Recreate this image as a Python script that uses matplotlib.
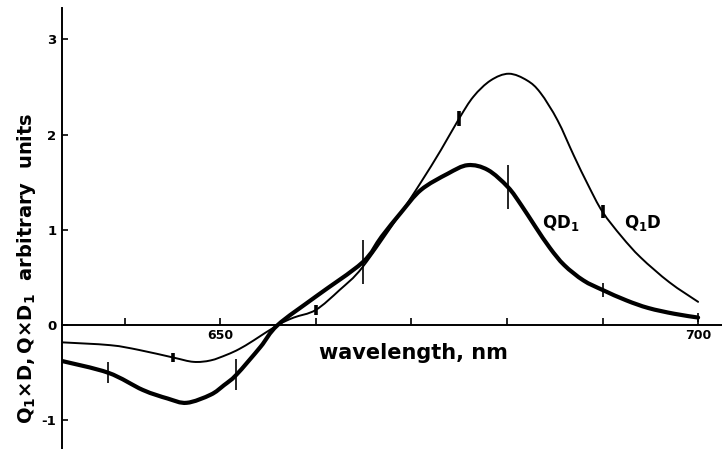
import numpy as np
import matplotlib
matplotlib.use("Agg")
import matplotlib.pyplot as plt
from matplotlib.path import Path
from matplotlib.patches import PathPatch

plt.rcParams['font.family'] = ['DejaVu Sans']
plt.rcParams['font.weight'] = 'bold'
plt.rcParams['mathtext.fontset'] = 'custom'
plt.rcParams['mathtext.rm'] = 'DejaVu Sans:bold'
plt.rcParams['mathtext.bf'] = 'DejaVu Sans:bold'
plt.rcParams['mathtext.it'] = 'DejaVu Sans:bold'

# Q1 x D spectrum (thin curve)
wl_q1d = [633.4, 638.5, 641.5, 645.1, 647.2, 649.0, 650.7, 652.0, 653.5, 656.0,
          657.7, 660.0, 662.5, 664.9, 668.9, 671.0, 673.1, 675.0, 676.5, 678.3,
          680.2, 682.1, 683.5, 685.3, 687.0, 688.5, 690.0, 692.0, 694.0, 697.0, 700.0]
val_q1d = [-0.18, -0.21, -0.26, -0.34, -0.385, -0.37, -0.31, -0.25, -0.16, 0.0,
           0.08, 0.16, 0.37, 0.61, 1.18, 1.50, 1.84, 2.17, 2.40, 2.57,
           2.64, 2.57, 2.44, 2.15, 1.78, 1.47, 1.19, 0.93, 0.71, 0.45, 0.245]

# Q x D1 spectrum (thick curve)
wl_qd1 = [633.4, 638.3, 641.9, 644.5, 646.5, 649.0, 650.4, 651.7, 654.2, 656.0,
          660.0, 664.9, 666.9, 668.9, 671.0, 673.8, 675.9, 678.0, 680.1, 681.5,
          683.0, 684.5, 686.0, 688.0, 690.0, 692.5, 694.8, 697.5, 700.0]
val_qd1 = [-0.375, -0.50, -0.68, -0.77, -0.815, -0.73, -0.63, -0.52, -0.23, 0.0,
           0.30, 0.66, 0.93, 1.18, 1.42, 1.59, 1.68, 1.63, 1.45, 1.26,
           1.03, 0.81, 0.63, 0.47, 0.37, 0.26, 0.18, 0.12, 0.08]

# error bars: wavelength, value, half-width
err_q1d_wl = [645.1, 660.0, 675.0, 690.0]
err_q1d_val = [-0.34, 0.16, 2.17, 1.19]
err_q1d_half = [0.05, 0.05, 0.08, 0.07]

err_qd1_wl = [638.3, 651.7, 664.9, 680.1, 690.0, 700.0]
err_qd1_val = [-0.50, -0.52, 0.66, 1.45, 0.37, 0.08]
err_qd1_half = [0.11, 0.16, 0.23, 0.23, 0.07, 0.05]

x_ticks = [640, 650, 660, 670, 680, 690, 700]
x_tick_labels = ['', '650', '', '', '', '', '700']
y_ticks = [-1, 0, 1, 2, 3]


def smooth_path(xs, ys):
    # Catmull-Rom through the points, written as cubic Bezier segments
    p = np.column_stack([xs, ys])
    pad = np.vstack([p[0], p, p[-1]])
    verts = [p[0]]
    codes = [Path.MOVETO]
    for i in range(1, len(pad) - 2):
        p0, p1, p2, p3 = pad[i - 1], pad[i], pad[i + 1], pad[i + 2]
        verts += [p1 + (p2 - p0) / 6, p2 - (p3 - p1) / 6, p2]
        codes += [Path.CURVE4] * 3
    return Path(verts, codes)


fig = plt.figure(figsize=(7.22, 4.49), dpi=100)
ax = fig.add_axes([62 / 722, 0.0, 1 - 62 / 722, (449 - 8) / 449])

ax.add_patch(PathPatch(smooth_path(wl_q1d, val_q1d), fill=False,
                       edgecolor='black', lw=1.4, capstyle='round'))
ax.add_patch(PathPatch(smooth_path(wl_qd1, val_qd1), fill=False,
                       edgecolor='black', lw=3.0, capstyle='round'))

ax.vlines(err_q1d_wl, np.array(err_q1d_val) - err_q1d_half,
          np.array(err_q1d_val) + err_q1d_half, color='black', lw=2.6)
ax.vlines(err_qd1_wl, np.array(err_qd1_val) - err_qd1_half,
          np.array(err_qd1_val) + err_qd1_half, color='black', lw=1.2)

ax.set_xlim(633.45, 702.5)
ax.set_ylim(-1.30, 3.33)

for s in ['top', 'right']:
    ax.spines[s].set_visible(False)
ax.spines['bottom'].set_position(('data', 0))
ax.spines['bottom'].set_linewidth(1.4)
ax.spines['left'].set_linewidth(1.4)

ax.set_xticks(x_ticks)
ax.set_xticklabels(x_tick_labels, fontsize=9, fontweight='bold')
ax.tick_params(axis='x', direction='in', length=5, width=1.2, pad=3)
ax.set_yticks(y_ticks)
ax.set_yticklabels([str(v) for v in y_ticks], fontsize=9.5, fontweight='bold')
ax.tick_params(axis='y', direction='in', length=4, width=1.2, pad=4)

ax.text(685.6, 1.07, r'$\mathbf{QD_1}$', fontsize=12, ha='center', va='center')
ax.text(694.2, 1.07, r'$\mathbf{Q_1D}$', fontsize=12, ha='center', va='center')

ax.text(670.2, -0.29, 'wavelength, nm', fontsize=15, fontweight='bold',
        ha='center', va='center')

fig.text(27 / 722, 1 - 268 / 449,
         r'$\mathbf{Q_1{\times}D, Q{\times}D_1}$  arbitrary  units',
         rotation=90, fontsize=14, fontweight='bold', ha='center', va='center')

fig.savefig('out.png', dpi=100)
